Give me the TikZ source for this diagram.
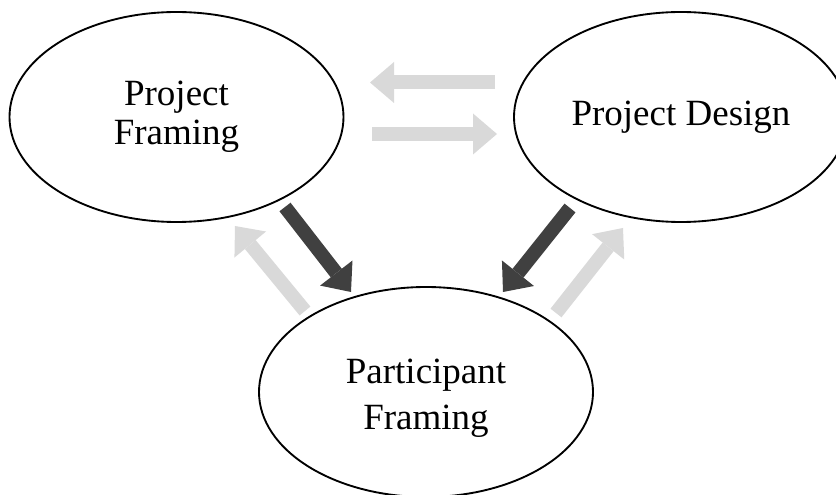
\documentclass[tikz,border=0pt]{standalone}
\usepackage{fontspec}
\setmainfont{Liberation Serif}
\usetikzlibrary{shapes.geometric,arrows.meta}
\definecolor{lightflow}{HTML}{D9D9D9}
\definecolor{darkflow}{HTML}{404040}
\tikzset{
 phase/.style={draw,ellipse,line width=1.4pt,minimum width=250.5pt,minimum height=157.5pt,inner sep=0pt,align=center,font=\fontsize{27.75pt}{29.25pt}\selectfont},
 flow/.style={line width=10.5pt,-{Triangle[length=18pt,width=30.75pt,line width=0pt]}},
 back/.style={flow,lightflow},
 fwd/.style={flow,darkflow}
}
\begin{document}
\begin{tikzpicture}[x=0.75pt,y=-0.75pt]
 \useasboundingbox (0,0) rectangle (836,495);
 \node[phase] (frame) at (176.5,117) {Project\\Framing};
 \node[phase] (design) at (681,117) {Project Design};
 \node[phase,font=\fontsize{27.75pt}{34.5pt}\selectfont] (part) at (426,392) {\rule{0pt}{27.75pt}Participant\\Framing};
 \coordinate (df1) at (495,82.5);
 \coordinate (df2) at (370,82.5);
 \coordinate (fd1) at (372,134);
 \coordinate (fd2) at (497,134);
 \coordinate (fp1) at (285,207);
 \coordinate (fp2) at (351,292);
 \coordinate (pf1) at (305,311);
 \coordinate (pf2) at (235,226);
 \coordinate (dp1) at (570,208);
 \coordinate (dp2) at (503,292);
 \coordinate (pd1) at (556,313);
 \coordinate (pd2) at (623,228);
 \draw[back] (df1)--(df2);
 \draw[back] (fd1)--(fd2);
 \draw[back] (pf1)--(pf2);
 \draw[back] (pd1)--(pd2);
 \draw[fwd] (fp1)--(fp2);
 \draw[fwd] (dp1)--(dp2);
\end{tikzpicture}
\end{document}
